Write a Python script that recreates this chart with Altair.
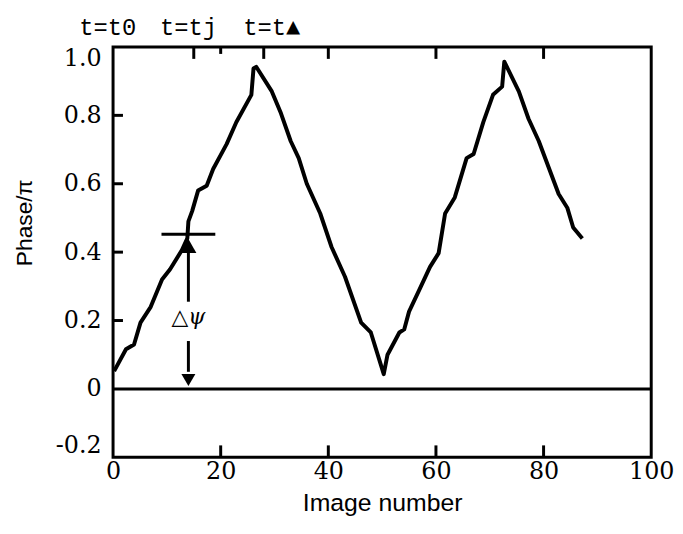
import altair as alt
import pandas as pd

# ---- data ----
image_number = [0.2, 2.4, 3.9, 5.1, 7.0, 9.1, 10.6, 12.8, 13.8, 14.0, 14.7, 15.8, 17.4, 18.6,
                21.1, 22.9, 25.7, 26.1, 26.6, 29.5, 31.2, 33.0, 34.5, 36.0, 38.5, 40.6, 43.1,
                46.1, 47.9, 50.3, 51.0, 53.2, 54.1, 55.0, 57.1, 58.9, 60.5, 61.7, 63.5, 65.7,
                67.0, 68.8, 70.6, 72.3, 72.7, 75.4, 77.2, 79.1, 82.8, 84.4, 85.5, 87.2]
phase = [0.052, 0.116, 0.13, 0.194, 0.24, 0.32, 0.35, 0.406, 0.44, 0.49, 0.52, 0.58, 0.594,
         0.643, 0.716, 0.78, 0.86, 0.937, 0.942, 0.87, 0.806, 0.725, 0.675, 0.60, 0.513,
         0.415, 0.328, 0.194, 0.165, 0.043, 0.10, 0.165, 0.174, 0.226, 0.296, 0.357, 0.397,
         0.513, 0.56, 0.675, 0.687, 0.78, 0.86, 0.884, 0.957, 0.87, 0.79, 0.725, 0.57, 0.53,
         0.472, 0.44]

x_ticks = [0, 20, 40, 60, 80, 100]
y_ticks = [-0.2, 0, 0.2, 0.4, 0.6, 0.8, 1.0]
inner_x_ticks = [20, 40, 60, 80]
inner_y_ticks = [0.2, 0.4, 0.6, 0.8]
top_ticks_long = [15, 28, 40, 60, 80]
top_ticks_short = [20]
top_labels = ["t=t0", "t=tj", "t=t\u25b2"]
top_label_x = [-1.0, 14.0, 29.5]

# Δψ annotation values
dpsi_x = 14
dpsi_level = 0.452
dpsi_bar = [9, 19]
dpsi_text = "\u25b3\u03c8"

W, H = 543, 414

xs = alt.Scale(domain=[0, 100], nice=False, zero=False)
ys = alt.Scale(domain=[-0.2, 1.0], nice=False, zero=False)

curve_df = pd.DataFrame({"x": image_number, "y": phase})

base_x_axis = alt.Axis(values=x_ticks, domain=False, ticks=False, grid=False,
                       labelFont="DejaVu Serif", labelFontSize=24, labelColor="black",
                       labelPadding=2, labelFlush=False, format="d",
                       title="Image number", titleFont="Liberation Sans", titleFontSize=25,
                       titleFontWeight="normal", titleColor="black",
                       titleX=W / 2, titleY=46, titleBaseline="middle", titleAlign="center")
base_y_axis = alt.Axis(values=y_ticks, domain=False, ticks=False, grid=False,
                       labelFont="DejaVu Serif", labelFontSize=24, labelColor="black",
                       labelPadding=12, labelFlush=True,
                       labelExpr="datum.value == 0 ? '0' : (datum.value < 0 ? '-' + format(-datum.value, '.1f') : format(datum.value, '.1f'))",
                       title="Phase/\u03c0", titleFont="Liberation Sans", titleFontSize=23,
                       titleFontWeight="normal", titleColor="black",
                       titleX=-89, titleY=177, titleBaseline="middle", titleAlign="center",
                       titleAngle=270)

curve = alt.Chart(curve_df).mark_line(color="black", strokeWidth=4, strokeJoin="round").encode(
    x=alt.X("x:Q", scale=xs, axis=base_x_axis),
    y=alt.Y("y:Q", scale=ys, axis=base_y_axis),
)

zero_line = alt.Chart(pd.DataFrame({"y": [0]})).mark_rule(color="black", strokeWidth=3).encode(
    y=alt.Y("y:Q", scale=ys), x=alt.value(0), x2=alt.value(W))

left_ticks = alt.Chart(pd.DataFrame({"y": inner_y_ticks})).mark_rule(color="black", strokeWidth=3).encode(
    y=alt.Y("y:Q", scale=ys), x=alt.value(0), x2=alt.value(10))

bottom_ticks = alt.Chart(pd.DataFrame({"x": inner_x_ticks})).mark_rule(color="black", strokeWidth=3).encode(
    x=alt.X("x:Q", scale=xs), y=alt.value(H), y2=alt.value(H - 12))

top_long = alt.Chart(pd.DataFrame({"x": top_ticks_long})).mark_rule(color="black", strokeWidth=3).encode(
    x=alt.X("x:Q", scale=xs), y=alt.value(0), y2=alt.value(12))
top_short = alt.Chart(pd.DataFrame({"x": top_ticks_short})).mark_rule(color="black", strokeWidth=3).encode(
    x=alt.X("x:Q", scale=xs), y=alt.value(0), y2=alt.value(7))

top_text = alt.Chart(pd.DataFrame({"x": top_label_x, "t": top_labels})).mark_text(
    font="Liberation Mono", fontSize=24, color="black", baseline="alphabetic", align="center",
    clip=False).encode(x=alt.X("x:Q", scale=xs), y=alt.value(-12), text="t:N")

bar = alt.Chart(pd.DataFrame({"x": [dpsi_bar[0]], "x2": [dpsi_bar[1]], "y": [dpsi_level]})).mark_rule(
    color="black", strokeWidth=3).encode(x=alt.X("x:Q", scale=xs), x2="x2:Q", y=alt.Y("y:Q", scale=ys))

shaft = alt.Chart(pd.DataFrame({"x": [dpsi_x, dpsi_x], "y": [0.40, 0.14], "y2": [0.255, 0.05]})).mark_rule(
    color="black", strokeWidth=3).encode(x=alt.X("x:Q", scale=xs), y=alt.Y("y:Q", scale=ys), y2="y2:Q")

head_up = alt.Chart(pd.DataFrame({"x": [dpsi_x], "y": [0.418]})).mark_point(
    shape="triangle-up", filled=True, color="black", size=260, opacity=1).encode(
    x=alt.X("x:Q", scale=xs), y=alt.Y("y:Q", scale=ys))
head_down = alt.Chart(pd.DataFrame({"x": [dpsi_x], "y": [0.026]})).mark_point(
    shape="triangle-down", filled=True, color="black", size=200, opacity=1).encode(
    x=alt.X("x:Q", scale=xs), y=alt.Y("y:Q", scale=ys))

label = alt.Chart(pd.DataFrame({"x": [dpsi_x], "y": [0.21], "t": [dpsi_text]})).mark_text(
    font="DejaVu Serif", fontSize=22, fontStyle="italic", color="black", baseline="middle",
    align="center").encode(
    x=alt.X("x:Q", scale=xs), y=alt.Y("y:Q", scale=ys), text="t:N")

chart = alt.layer(zero_line, left_ticks, bottom_ticks, top_long, top_short, bar, shaft,
                  head_up, head_down, label, curve, top_text).properties(
    width=W, height=H,
    autosize=alt.AutoSizeParams(type="none"),
    padding={"left": 106, "top": 37, "right": 24, "bottom": 67},
    background="white",
).configure_view(stroke="black", strokeWidth=3)

chart.save("out.html", embed_options={"renderer": "svg", "actions": False})
